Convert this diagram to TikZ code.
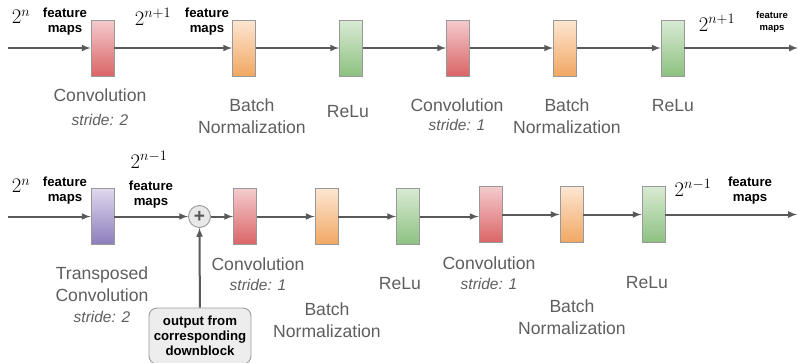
\documentclass[tikz,border=0pt]{standalone}
\usepackage{amsmath}
\usepackage{fontspec}
\setsansfont{Liberation Sans}
\usetikzlibrary{arrows,positioning,calc}
\definecolor{convtop}{HTML}{F4CBCD}
\definecolor{convbot}{HTML}{DB6466}
\definecolor{bntop}{HTML}{FDE6D2}
\definecolor{bnbot}{HTML}{F1A762}
\definecolor{relutop}{HTML}{D8EAD3}
\definecolor{relubot}{HTML}{8DC180}
\definecolor{uptop}{HTML}{DFD8EE}
\definecolor{upbot}{HTML}{8C7CBB}
\definecolor{edgegray}{HTML}{999999}
\definecolor{linegray}{HTML}{595959}
\definecolor{textgray}{HTML}{5E5E5E}
\tikzset{%
	layer/.style  = {draw=edgegray, line width=0.9pt, rectangle, minimum width=23pt, minimum height=56pt, inner sep=0pt},
	conv/.style   = {layer, top color=convtop, bottom color=convbot},
	bn/.style     = {layer, top color=bntop, bottom color=bnbot},
	relu/.style   = {layer, top color=relutop, bottom color=relubot},
	upconv/.style = {layer, top color=uptop, bottom color=upbot},
	arrow/.style  = {line width=2pt, draw=linegray, -latex},
	lbl/.style    = {text=textgray, font=\sffamily\fontsize{17.6}{22}\selectfont, align=center, anchor=north, inner sep=0pt},
	strd/.style   = {text=textgray, font=\sffamily\itshape\fontsize{15.5}{18}\selectfont, anchor=north, inner sep=0pt},
	fmaps/.style  = {font=\sffamily\bfseries\fontsize{13.2}{15}\selectfont, align=center, anchor=north, inner sep=0pt},
	pow/.style    = {font=\fontsize{22}{26}\selectfont, inner sep=0pt},
}
\begin{document}
\begin{tikzpicture}[x=1pt,y=-1pt]
	\useasboundingbox (0,0) rectangle (798,362);
	
	% upper row
	\coordinate (inA) at (8,48);
	\coordinate (outA) at (798,48);
	\node[conv] (convA) at (102.5,48) {};
	\node[bn]   (bnA)   at (244,48) {};
	\node[relu] (reluA) at (351,48) {};
	\node[conv] (convB) at (458,48) {};
	\node[bn]   (bnB)   at (565,48) {};
	\node[relu] (reluB) at (672.5,48) {};
	
	\draw[arrow] (inA) -- (convA);
	\draw[arrow] (convA) -- (bnA);
	\draw[arrow] (bnA) -- (reluA);
	\draw[arrow] (reluA) -- (convB);
	\draw[arrow] (convB) -- (bnB);
	\draw[arrow] (bnB) -- (reluB);
	\draw[arrow] (reluB) -- (outA);
	
	\node[pow] (pA) at (21,17) {$2^n$};
	\node[fmaps] (fA) at (65,8) {feature\\maps};
	\node[pow] (pB) at (153,17) {$2^{n+1}$};
	\node[fmaps] (fB) at (207,8) {feature\\maps};
	\node[pow] (pC) at (717,23) {$2^{n+1}$};
	\node[fmaps, font=\sffamily\bfseries\fontsize{9.5}{12}\selectfont] (fC) at (772,11) {feature\\maps};
	
	\node[lbl] (lconvA) at (100,89) {Convolution};
	\node[strd] (sconvA) at (100,114) {stride: 2};
	\node[lbl] (lbnA) at (252,99) {Batch\\Normalization};
	\node[lbl] (lreluA) at (348,105) {ReLu};
	\node[lbl] (lconvB) at (457,99) {Convolution};
	\node[strd] (sconvB) at (457,119) {stride: 1};
	\node[lbl] (lbnB) at (567,99) {Batch\\Normalization};
	\node[lbl] (lreluB) at (673,99) {ReLu};
	
	% lower row
	\coordinate (inC) at (8,216.5);
	\coordinate (outC) at (797,214.5);
	\node[upconv] (upconv) at (102.5,216.5) {};
	\node[draw=edgegray, line width=0.9pt, circle, fill=black!9, minimum size=22pt, inner sep=0pt,
	      font=\sffamily\bfseries\fontsize{19}{19}\selectfont, text=linegray] (add) at (199.5,216.5) {+};
	\node[conv] (convC) at (245,216.5) {};
	\node[bn]   (bnC)   at (326.5,216.5) {};
	\node[relu] (reluC) at (408,216.5) {};
	\node[conv] (convD) at (490.5,214.5) {};
	\node[bn]   (bnD)   at (571.5,214.5) {};
	\node[relu] (reluD) at (653.5,214.5) {};
	\node[draw=edgegray, line width=0.9pt, fill=black!7, rounded corners=8pt, minimum width=102pt,
	      minimum height=56pt, font=\sffamily\bfseries\fontsize{13.2}{15}\selectfont, align=center] (skip) at (200,336) {output from\\corresponding\\downblock};
	
	\draw[arrow] (inC) -- (upconv);
	\draw[arrow] (upconv) -- (add);
	\draw[arrow] (add) -- (convC);
	\draw[arrow] (skip) -- (add);
	\draw[arrow] (convC) -- (bnC);
	\draw[arrow] (bnC) -- (reluC);
	\draw[arrow] (reluC.east) -- (reluC.east -| convD.west);
	\draw[arrow] (convD) -- (bnD);
	\draw[arrow] (bnD) -- (reluD);
	\draw[arrow] (reluD) -- (outC);
	
	\node[pow] (pD) at (21,186) {$2^n$};
	\node[fmaps] (fD) at (65,177) {feature\\maps};
	\node[pow] (pE) at (149,160) {$2^{n-1}$};
	\node[fmaps] (fE) at (151,181) {feature\\maps};
	\node[pow] (pF) at (693,188) {$2^{n-1}$};
	\node[fmaps] (fF) at (750,177) {feature\\maps};
	
	\node[lbl] (lupconv) at (102,267) {Transposed\\Convolution};
	\node[strd] (supconv) at (102,311) {stride: 2};
	\node[lbl] (lconvC) at (258,258) {Convolution};
	\node[strd] (sconvC) at (258,279) {stride: 1};
	\node[lbl] (lbnC) at (327,303) {Batch\\Normalization};
	\node[lbl] (lreluC) at (400,277) {ReLu};
	\node[lbl] (lconvD) at (489,257) {Convolution};
	\node[strd] (sconvD) at (489,278) {stride: 1};
	\node[lbl] (lbnD) at (572,300) {Batch\\Normalization};
	\node[lbl] (lreluD) at (647,276) {ReLu};
\end{tikzpicture}
\end{document}
